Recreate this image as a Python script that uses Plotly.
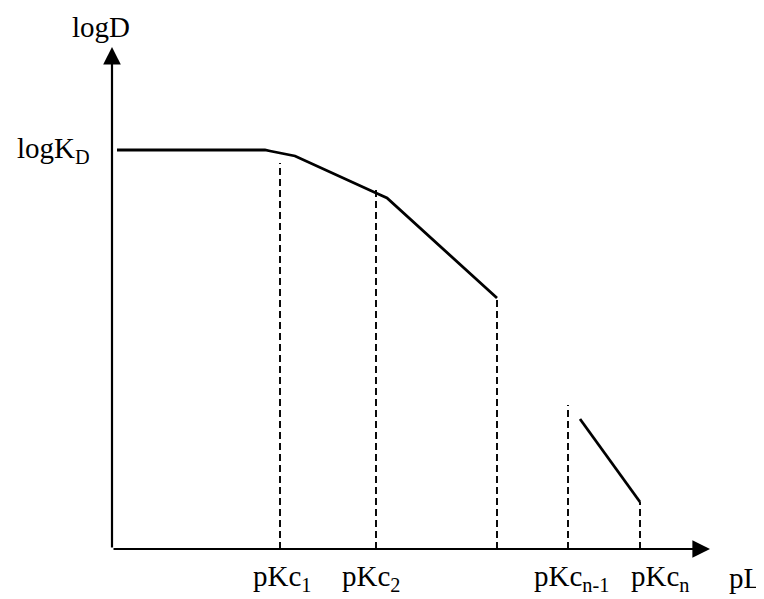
import plotly.graph_objects as go

# Schematic data (abstract units: origin at axes intersection)
seg1_x = [5, 153, 158, 168, 183, 264, 275, 385]
seg1_y = [399, 399, 398, 396, 393, 356, 351, 251]
seg2_x = [468, 528]
seg2_y = [130, 47]

# dashed drop lines: x position and top y value
drop_x = [168, 264, 385, 456, 528]
drop_top = [386, 359, 251, 144, 47]

# tick labels below the x axis
tick_labels = ["pKc<sub>1</sub>", "pKc<sub>2</sub>", "pKc<sub>n-1</sub>", "pKc<sub>n</sub>"]
tick_label_x = [170, 259, 459, 548]

x_axis_end = 598
y_axis_end = 502

FONT = "Liberation Serif"
FS = 29

fig = go.Figure()

for xv, top in zip(drop_x, drop_top):
    fig.add_trace(go.Scatter(x=[xv, xv], y=[0, top], mode="lines",
                             line=dict(color="black", width=1.9, dash="7px,4px"),
                             hoverinfo="skip", showlegend=False))

fig.add_trace(go.Scatter(x=seg1_x, y=seg1_y, mode="lines",
                         line=dict(color="black", width=2.8), showlegend=False))
fig.add_trace(go.Scatter(x=seg2_x, y=seg2_y, mode="lines",
                         line=dict(color="black", width=2.8), showlegend=False))

annotations = []
# axes arrows
annotations.append(dict(x=0, y=y_axis_end, ax=0, ay=0, xref="x", yref="y", axref="x", ayref="y",
                        showarrow=True, arrowhead=2, arrowsize=1.6, arrowwidth=2.2,
                        arrowcolor="black", text="", standoff=0, startstandoff=0))
annotations.append(dict(x=x_axis_end, y=0, ax=0, ay=0, xref="x", yref="y", axref="x", ayref="y",
                        showarrow=True, arrowhead=2, arrowsize=1.6, arrowwidth=2.2,
                        arrowcolor="black", text="", standoff=0, startstandoff=0))

# axis titles
annotations.append(dict(x=-11, y=522, xref="x", yref="y", text="logD", showarrow=False,
                        font=dict(family=FONT, size=FS, color="black"),
                        xanchor="center", yanchor="middle"))
annotations.append(dict(x=633, y=-29, xref="x", yref="y", text="pL", showarrow=False,
                        font=dict(family=FONT, size=FS, color="black"),
                        xanchor="center", yanchor="middle"))
annotations.append(dict(x=-20, y=399, xref="x", yref="y", text="logK<sub>D</sub>", showarrow=False,
                        font=dict(family=FONT, size=FS, color="black"),
                        xanchor="right", yanchor="middle"))
for lx, lt in zip(tick_label_x, tick_labels):
    annotations.append(dict(x=lx, y=-29, xref="x", yref="y", text=lt, showarrow=False,
                            font=dict(family=FONT, size=FS, color="black"),
                            xanchor="center", yanchor="middle"))

# the page body adds an 8px margin, so the figure is drawn 8px smaller and offset
fig.update_layout(
    width=756, height=591,
    margin=dict(l=0, r=0, t=0, b=0),
    paper_bgcolor="white", plot_bgcolor="white",
    xaxis=dict(range=[-104, 652], visible=False, fixedrange=True),
    yaxis=dict(range=[-50, 541], visible=False, fixedrange=True),
    annotations=annotations,
    showlegend=False,
)

fig.write_html("out.html")
